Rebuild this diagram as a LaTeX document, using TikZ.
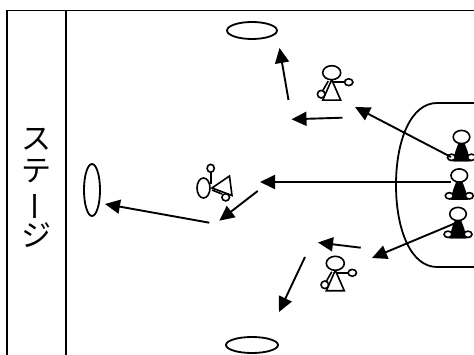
\documentclass[tikz,border=0pt]{standalone}
\usepackage{fontspec}
\usepackage{graphicx}
\newfontfamily\jpfont{Noto Sans CJK JP}
\usetikzlibrary{arrows.meta}
\tikzset{
  x=1pt,y=-1pt,
  ln/.style={line width=1.8pt,black},
  thinln/.style={line width=1.6pt,black},
  mv/.style={line width=1.9pt,black,-{Triangle[length=15pt,width=14pt]}},
  prop/.style={thinln,fill=white},
  dancer/.pic={
    \draw[thinln] (-9,27.5) -- (0,7) -- (9,27.5) -- cycle;
    \draw[thinln] (1,9.5) -- (13,9.5);
    \draw[thinln] (-3.5,8.5) -- (-9,18);
    \draw[prop] (0,0) ellipse [x radius=9,y radius=7];
    \draw[prop] (17,9.5) ellipse [x radius=4.2,y radius=3.4];
    \draw[prop] (-10.5,21.5) ellipse [x radius=3.8,y radius=3.8];
  },
  sitter/.pic={
    \fill[black] (-3,6) -- (3,6) -- (6,14) -- (9,24.5) -- (-9,24.5) -- (-6,14) -- cycle;
    \draw[prop] (0,0) ellipse [x radius=8.3,y radius=6.6];
    \draw[prop] (-10,20.3) ellipse [x radius=4,y radius=3.2];
    \draw[prop] (10,20.3) ellipse [x radius=4,y radius=3.2];
    \fill[black] (-6,18) -- (6,18) -- (8,24.5) -- (-8,24.5) -- cycle;
  }
}
\begin{document}
\begin{tikzpicture}
\useasboundingbox (0,0) rectangle (474,355);
\fill[white] (0,0) rectangle (474,355);
% stage frame
\draw[ln] (7,355) -- (7,10.5) -- (474,10.5);
\draw[ln] (66,10.5) -- (66,355);
\node[inner sep=0pt,align=center,font={\jpfont\fontsize{30}{31.5}\selectfont}] (stage) at (36,188)
  {ス\\テ\\\kern-12pt\rotatebox[origin=c]{-90}{ー}\\ジ};
% markers
\draw[ln] (252,30.5) ellipse [x radius=25,y radius=8.5];
\draw[ln] (252,345) ellipse [x radius=26,y radius=8];
\draw[ln] (92,190) ellipse [x radius=8,y radius=26];
% audience curve
\draw[ln] (474,103) -- (437,103) .. controls (411,103) and (396,140) .. (396,185)
  .. controls (396,230) and (411,267) .. (437,267) -- (474,267);
% figures
\pic at (331.7,72.7) {dancer};
\pic at (335.3,263.3) {dancer};
\pic at (461.5,137) {sitter};
\pic at (459.3,175.5) {sitter};
\pic at (458,214) {sitter};
% rotated figure
\draw[thinln] (212,188) -- (229.5,176) -- (232,195.5) -- cycle;
\draw[thinln] (211,184) -- (211,172);
\draw[thinln] (212,190) -- (222,194);
\draw[prop] (203.5,188) ellipse [x radius=6.5,y radius=10];
\draw[prop] (210.7,168.3) ellipse [x radius=3.6,y radius=4];
\draw[prop] (225.7,197.3) ellipse [x radius=3.8,y radius=3.6];
% moves
\coordinate (a1) at (288.5,100); \coordinate (b1) at (279.5,48);
\coordinate (a2) at (342.5,117.7); \coordinate (b2) at (291.5,119.3);
\coordinate (a3) at (451,157); \coordinate (b3) at (355,107);
\coordinate (a4) at (451,182); \coordinate (b4) at (260,182);
\coordinate (a5) at (456.5,222.7); \coordinate (b5) at (372,258);
\coordinate (a6) at (360.7,247.7); \coordinate (b6) at (318,242.5);
\coordinate (a7) at (305,257); \coordinate (b7) at (279,312);
\coordinate (a8) at (257.7,191); \coordinate (b8) at (219.3,220.7);
\coordinate (a9) at (209.3,222.7); \coordinate (b9) at (105,204);
\foreach \i in {1,...,9} \draw[mv] (a\i) -- (b\i);
\end{tikzpicture}
\end{document}
